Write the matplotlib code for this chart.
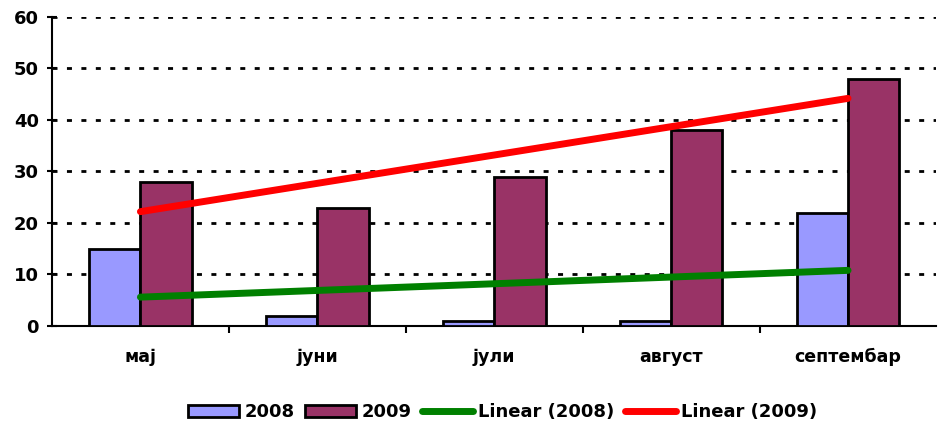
import numpy as np
import matplotlib.pyplot as plt

months = ["мај", "јуни", "јули", "август", "септембар"]
y2008 = [15, 2, 1, 1, 22]
y2009 = [28, 23, 29, 38, 48]

plt.rcParams['font.family'] = ['DejaVu Sans']

fig = plt.figure(figsize=(9.38, 4.25), dpi=100)
ax = fig.add_axes([0.0554, 0.233, 0.943, 0.727])

x = np.arange(len(months))
w = 0.29
b1 = ax.bar(x - w / 2, y2008, w, color="#9999ff", edgecolor="black", linewidth=2, label="2008", zorder=3)
b2 = ax.bar(x + w / 2, y2009, w, color="#993366", edgecolor="black", linewidth=2, label="2009", zorder=3)

# least squares trend lines across the months
lines = []
for vals, col, lab in [(y2008, "green", "Linear (2008)"), (y2009, "red", "Linear (2009)")]:
    b, a = np.polyfit(x, vals, 1)
    ln, = ax.plot(x, a + b * x, color=col, linewidth=5, solid_capstyle="round", label=lab, zorder=4)
    lines.append(ln)

ax.set_xlim(-0.5, len(months) - 0.5)
ax.set_ylim(0, 60)
ax.set_yticks(range(0, 61, 10))
ax.set_xticks(x)
ax.set_xticklabels(months, fontsize=12.5, fontweight="bold")
ax.set_xticks(np.arange(0.5, len(months) - 1, 1), minor=True)
ax.tick_params(axis="x", which="major", length=0, pad=16)
ax.tick_params(axis="x", which="minor", length=5, width=1.5, direction="out")
ax.tick_params(axis="y", labelsize=13, length=7, width=1.5, direction="inout", pad=6)
for t in ax.get_yticklabels():
    t.set_fontweight("bold")

ax.grid(axis="y", color="black", linestyle=(0, (1.8, 3.4)), linewidth=2)
ax.set_axisbelow(True)
for s in ["top", "right"]:
    ax.spines[s].set_visible(False)
ax.spines["left"].set_linewidth(1.5)
ax.spines["bottom"].set_linewidth(1.5)

fig.legend(handles=[b1, b2] + lines, loc="center", bbox_to_anchor=(0.536, 0.03), ncol=4, frameon=False,
           prop={"size": 13, "weight": "bold"}, handlelength=2.8, handleheight=0.65,
           handletextpad=0.3, columnspacing=0.6)

fig.savefig("out.png", dpi=100)
